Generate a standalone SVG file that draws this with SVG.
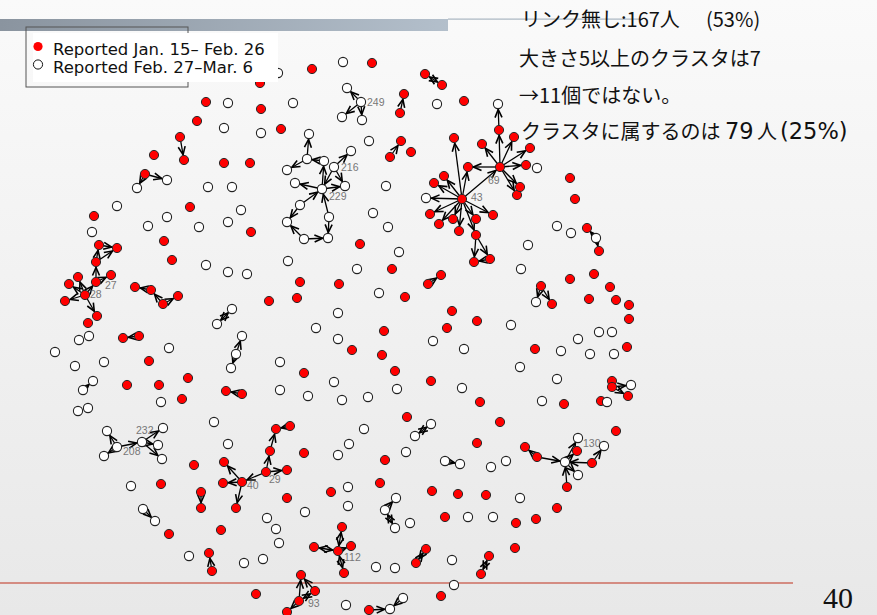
<svg xmlns="http://www.w3.org/2000/svg" width="877" height="615" viewBox="0 0 877 615">
<defs>
<linearGradient id="bg" x1="0" y1="0" x2="0" y2="1"><stop offset="0" stop-color="#fafafa"/><stop offset="1" stop-color="#e8e8e8"/></linearGradient>
<linearGradient id="bar" x1="0" y1="0" x2="1" y2="0"><stop offset="0" stop-color="#8a949f"/><stop offset="1" stop-color="#b3bfcb"/></linearGradient>
<marker id="a" viewBox="0 0 10 10" refX="14.5" refY="5" markerWidth="10" markerHeight="10" markerUnits="userSpaceOnUse" orient="auto-start-reverse"><path d="M1,1.5 L9,5 L1,8.5" fill="none" stroke="#000" stroke-width="1.6"/></marker>
<style>
.r{fill:#ff0000;stroke:#2a2a2a;stroke-width:1}
.w{fill:#ffffff;stroke:#222;stroke-width:1.1}
circle{r:4.6px}
.e{stroke:#000;stroke-width:1.3;fill:none;marker-end:url(#a)}
.b{stroke:#000;stroke-width:1.3;fill:none;marker-end:url(#a);marker-start:url(#a)}
.lb{font-family:"Liberation Sans",Arial,sans-serif;font-size:10.5px;fill:#777}
.jp{font-family:"Noto Sans CJK JP",sans-serif;font-size:20px;fill:#111}
.lt{font-family:"DejaVu Sans","Noto Sans CJK JP",sans-serif;font-size:22.5px}
.lg{font-family:"DejaVu Sans",sans-serif;font-size:16.5px;fill:#111}
</style>
</defs>
<rect width="877" height="615" fill="url(#bg)"/>
<rect x="0" y="19" width="448" height="12" fill="url(#bar)"/>
<rect x="448" y="18.5" width="195" height="1.2" fill="#a9b5c1"/>
<line x1="0" y1="583" x2="793" y2="583" stroke="#c0301c" stroke-width="1.2"/>
<text x="823" y="608" font-family="Liberation Serif,serif" font-size="30" fill="#111">40</text>
<g id="notes" class="jp">
<text x="521" y="27">リンク無し:167人<tspan x="706">(53%)</tspan></text>
<text x="519" y="65.5">大きさ5以上のクラスタは7</text>
<text x="519" y="103">→11個ではない。</text>
<text x="521" y="139">クラスタに属するのは<tspan class="lt" x="725">79</tspan><tspan x="757">人</tspan><tspan class="lt" x="780">(25%)</tspan></text>
</g>
<g id="edges">
<line class="e" x1="180" y1="137" x2="184" y2="160"/>
<line class="b" x1="425" y1="74" x2="442" y2="85"/>
<line class="e" x1="361" y1="102" x2="347" y2="88"/>
<line class="e" x1="361" y1="102" x2="342" y2="117"/>
<line class="e" x1="361" y1="102" x2="362" y2="120"/>
<line class="e" x1="400" y1="113" x2="404" y2="94"/>
<line class="e" x1="307" y1="159" x2="309" y2="134"/>
<line class="e" x1="390" y1="157" x2="401" y2="141"/>
<line class="e" x1="334" y1="167" x2="351" y2="151"/>
<line class="e" x1="307" y1="159" x2="287" y2="170"/>
<line class="e" x1="324" y1="161" x2="307" y2="159"/>
<line class="e" x1="322" y1="189" x2="324" y2="161"/>
<line class="e" x1="334" y1="167" x2="322" y2="189"/>
<line class="e" x1="322" y1="189" x2="345" y2="186"/>
<line class="e" x1="322" y1="189" x2="295" y2="183"/>
<line class="e" x1="300" y1="205" x2="322" y2="189"/>
<line class="e" x1="329" y1="217" x2="322" y2="189"/>
<line class="e" x1="334" y1="167" x2="345" y2="186"/>
<line class="e" x1="300" y1="205" x2="287" y2="222"/>
<line class="e" x1="304" y1="239" x2="287" y2="222"/>
<line class="e" x1="304" y1="239" x2="328" y2="238"/>
<line class="e" x1="329" y1="217" x2="328" y2="238"/>
<line class="e" x1="145" y1="174" x2="167" y2="180"/>
<line class="e" x1="145" y1="174" x2="137" y2="188"/>
<line class="e" x1="96" y1="262" x2="99" y2="245"/>
<line class="e" x1="96" y1="262" x2="117" y2="248"/>
<line class="e" x1="99" y1="245" x2="117" y2="248"/>
<line class="e" x1="96" y1="282" x2="96" y2="262"/>
<line class="e" x1="96" y1="282" x2="111" y2="275"/>
<line class="e" x1="85" y1="295" x2="96" y2="282"/>
<line class="e" x1="85" y1="295" x2="78" y2="277"/>
<line class="e" x1="85" y1="295" x2="69" y2="284"/>
<line class="e" x1="85" y1="295" x2="65" y2="301"/>
<line class="e" x1="85" y1="295" x2="97" y2="316"/>
<line class="e" x1="151" y1="290" x2="135" y2="287"/>
<line class="e" x1="163" y1="304" x2="151" y2="290"/>
<line class="e" x1="163" y1="304" x2="178" y2="296"/>
<line class="b" x1="232" y1="309" x2="217" y2="324"/>
<line class="e" x1="139" y1="336" x2="123" y2="338"/>
<line class="e" x1="236" y1="354" x2="242" y2="336"/>
<line class="e" x1="236" y1="354" x2="231" y2="368"/>
<line class="e" x1="242" y1="394" x2="226" y2="391"/>
<line class="e" x1="83" y1="390" x2="93" y2="381"/>
<line class="e" x1="117" y1="447" x2="107" y2="431"/>
<line class="e" x1="117" y1="447" x2="104" y2="456"/>
<line class="e" x1="117" y1="447" x2="142" y2="442"/>
<line class="e" x1="142" y1="442" x2="163" y2="428"/>
<line class="e" x1="142" y1="442" x2="158" y2="445"/>
<line class="e" x1="142" y1="442" x2="162" y2="459"/>
<line class="e" x1="242" y1="482" x2="224" y2="462"/>
<line class="e" x1="242" y1="482" x2="223" y2="483"/>
<line class="e" x1="242" y1="482" x2="236" y2="508"/>
<line class="e" x1="266" y1="472" x2="242" y2="482"/>
<line class="e" x1="266" y1="472" x2="287" y2="470"/>
<line class="e" x1="266" y1="472" x2="270" y2="451"/>
<line class="e" x1="270" y1="451" x2="276" y2="429"/>
<line class="e" x1="290" y1="426" x2="276" y2="429"/>
<line class="e" x1="201" y1="492" x2="201" y2="508"/>
<line class="e" x1="143" y1="509" x2="155" y2="521"/>
<line class="e" x1="212" y1="571" x2="209" y2="553"/>
<line class="e" x1="385" y1="510" x2="396" y2="498"/>
<line class="b" x1="385" y1="510" x2="395" y2="528"/>
<line class="b" x1="338" y1="551" x2="342" y2="527"/>
<line class="b" x1="338" y1="551" x2="314" y2="547"/>
<line class="e" x1="338" y1="551" x2="351" y2="546"/>
<line class="b" x1="338" y1="551" x2="344" y2="573"/>
<line class="b" x1="426" y1="549" x2="416" y2="563"/>
<line class="e" x1="299" y1="601" x2="301" y2="575"/>
<line class="e" x1="315" y1="591" x2="301" y2="575"/>
<line class="b" x1="299" y1="601" x2="315" y2="591"/>
<line class="e" x1="299" y1="601" x2="287" y2="612"/>
<line class="e" x1="369" y1="610" x2="390" y2="609"/>
<line class="e" x1="403" y1="598" x2="390" y2="609"/>
<line class="e" x1="445" y1="461" x2="460" y2="464"/>
<line class="b" x1="431" y1="424" x2="415" y2="436"/>
<line class="b" x1="481" y1="574" x2="489" y2="556"/>
<line class="e" x1="567" y1="487" x2="565" y2="462"/>
<line class="e" x1="537" y1="457" x2="525" y2="447"/>
<line class="e" x1="537" y1="457" x2="565" y2="462"/>
<line class="e" x1="592" y1="463" x2="604" y2="446"/>
<line class="e" x1="565" y1="462" x2="578" y2="438"/>
<line class="e" x1="565" y1="462" x2="577" y2="451"/>
<line class="e" x1="565" y1="462" x2="578" y2="475"/>
<line class="e" x1="592" y1="463" x2="565" y2="462"/>
<line class="e" x1="612" y1="387" x2="628" y2="396"/>
<line class="e" x1="612" y1="387" x2="631" y2="385"/>
<line class="e" x1="596" y1="238" x2="587" y2="228"/>
<line class="e" x1="596" y1="238" x2="599" y2="251"/>
<line class="e" x1="541" y1="286" x2="536" y2="302"/>
<line class="e" x1="541" y1="286" x2="552" y2="304"/>
<line class="e" x1="476" y1="235" x2="474" y2="262"/>
<line class="e" x1="476" y1="235" x2="490" y2="259"/>
<line class="e" x1="490" y1="259" x2="474" y2="262"/>
<line class="e" x1="428" y1="284" x2="441" y2="275"/>
<line class="e" x1="500" y1="167" x2="468" y2="167"/>
<line class="e" x1="500" y1="167" x2="526" y2="165"/>
<line class="e" x1="500" y1="167" x2="520" y2="187"/>
<line class="e" x1="500" y1="167" x2="517" y2="195"/>
<line class="e" x1="500" y1="167" x2="499" y2="130"/>
<line class="e" x1="499" y1="130" x2="498" y2="104"/>
<line class="e" x1="500" y1="167" x2="482" y2="144"/>
<line class="e" x1="500" y1="167" x2="514" y2="137"/>
<line class="e" x1="500" y1="167" x2="530" y2="148"/>
<line class="e" x1="462" y1="199" x2="500" y2="167"/>
<line class="e" x1="462" y1="199" x2="468" y2="167"/>
<line class="e" x1="462" y1="199" x2="454" y2="138"/>
<line class="e" x1="462" y1="199" x2="493" y2="215"/>
<line class="e" x1="462" y1="199" x2="476" y2="219"/>
<line class="e" x1="462" y1="199" x2="476" y2="235"/>
<line class="e" x1="462" y1="199" x2="459" y2="231"/>
<line class="e" x1="462" y1="199" x2="453" y2="219"/>
<line class="e" x1="462" y1="199" x2="430" y2="214"/>
<line class="e" x1="462" y1="199" x2="439" y2="224"/>
<line class="e" x1="462" y1="199" x2="426" y2="198"/>
<line class="e" x1="462" y1="199" x2="434" y2="183"/>
<line class="e" x1="462" y1="199" x2="444" y2="176"/>
</g>
<g id="nodes">
<g id="n1"><circle class="w" cx="278" cy="73"/></g>
<g id="n2"><circle class="r" cx="260" cy="83"/></g>
<g id="n3"><circle class="r" cx="312" cy="69"/></g>
<g id="n4"><circle class="w" cx="343" cy="62"/></g>
<g id="n5"><circle class="r" cx="372" cy="63"/></g>
<g id="n6"><circle class="r" cx="425" cy="74"/></g>
<g id="n7"><circle class="r" cx="442" cy="85"/></g>
<g id="n8"><circle class="r" cx="206" cy="102"/></g>
<g id="n9"><circle class="w" cx="228" cy="103"/></g>
<g id="n10"><circle class="r" cx="197" cy="121"/></g>
<g id="n11"><circle class="w" cx="224" cy="128"/></g>
<g id="n12"><circle class="r" cx="180" cy="137"/></g>
<g id="n13"><circle class="r" cx="184" cy="160"/></g>
<g id="n14"><circle class="r" cx="154" cy="155"/></g>
<g id="n15"><circle class="r" cx="261" cy="109"/></g>
<g id="n16"><circle class="w" cx="293" cy="103"/></g>
<g id="n17"><circle class="w" cx="347" cy="88"/></g>
<g id="n249"><circle class="w" cx="361" cy="102"/><text class="lb" x="367" y="106">249</text></g>
<g id="n19"><circle class="w" cx="342" cy="117"/></g>
<g id="n20"><circle class="w" cx="362" cy="120"/></g>
<g id="n21"><circle class="r" cx="404" cy="94"/></g>
<g id="n22"><circle class="r" cx="400" cy="113"/></g>
<g id="n23"><circle class="w" cx="437" cy="104"/></g>
<g id="n24"><circle class="w" cx="261" cy="133"/></g>
<g id="n25"><circle class="r" cx="281" cy="129"/></g>
<g id="n26"><circle class="w" cx="309" cy="134"/></g>
<g id="n27"><circle class="w" cx="369" cy="141"/></g>
<g id="n28"><circle class="r" cx="401" cy="141"/></g>
<g id="n29"><circle class="r" cx="390" cy="157"/></g>
<g id="n30"><circle class="r" cx="411" cy="152"/></g>
<g id="n31"><circle class="r" cx="454" cy="138"/></g>
<g id="n32"><circle class="w" cx="351" cy="151"/></g>
<g id="n33"><circle class="r" cx="464" cy="101"/></g>
<g id="n34"><circle class="w" cx="498" cy="104"/></g>
<g id="n35"><circle class="r" cx="499" cy="130"/></g>
<g id="n36"><circle class="r" cx="482" cy="144"/></g>
<g id="n37"><circle class="r" cx="514" cy="137"/></g>
<g id="n38"><circle class="r" cx="530" cy="148"/></g>
<g id="n39"><circle class="r" cx="224" cy="163"/></g>
<g id="n40a"><circle class="r" cx="250" cy="163"/></g>
<g id="n41"><circle class="w" cx="307" cy="159"/></g>
<g id="n42"><circle class="w" cx="324" cy="161"/></g>
<g id="n43a"><circle class="w" cx="287" cy="170"/></g>
<g id="n216"><circle class="w" cx="334" cy="167"/><text class="lb" x="341" y="171">216</text></g>
<g id="n45"><circle class="r" cx="145" cy="174"/></g>
<g id="n46"><circle class="w" cx="167" cy="180"/></g>
<g id="n47"><circle class="w" cx="137" cy="188"/></g>
<g id="n48"><circle class="w" cx="208" cy="187"/></g>
<g id="n49"><circle class="w" cx="232" cy="187"/></g>
<g id="n50"><circle class="w" cx="117" cy="206"/></g>
<g id="n51"><circle class="r" cx="190" cy="207"/></g>
<g id="n52"><circle class="w" cx="241" cy="210"/></g>
<g id="n53"><circle class="r" cx="94" cy="216"/></g>
<g id="n54"><circle class="w" cx="167" cy="217"/></g>
<g id="n55"><circle class="w" cx="148" cy="226"/></g>
<g id="n56"><circle class="w" cx="199" cy="227"/></g>
<g id="n57"><circle class="w" cx="228" cy="222"/></g>
<g id="n58"><circle class="w" cx="92" cy="232"/></g>
<g id="n59"><circle class="r" cx="164" cy="241"/></g>
<g id="n60"><circle class="r" cx="172" cy="260"/></g>
<g id="n61"><circle class="w" cx="206" cy="265"/></g>
<g id="n62"><circle class="w" cx="228" cy="272"/></g>
<g id="n63"><circle class="w" cx="247" cy="274"/></g>
<g id="n64"><circle class="r" cx="99" cy="245"/></g>
<g id="n65"><circle class="r" cx="117" cy="248"/></g>
<g id="n66"><circle class="r" cx="96" cy="262"/></g>
<g id="n67"><circle class="r" cx="111" cy="275"/></g>
<g id="n27n"><circle class="r" cx="96" cy="282"/><text class="lb" x="105" y="289">27</text></g>
<g id="n69a"><circle class="r" cx="78" cy="277"/></g>
<g id="n70"><circle class="r" cx="69" cy="284"/></g>
<g id="n28n"><circle class="r" cx="85" cy="295"/><text class="lb" x="90" y="298">28</text></g>
<g id="n72"><circle class="r" cx="65" cy="301"/></g>
<g id="n73"><circle class="r" cx="97" cy="316"/></g>
<g id="n74"><circle class="r" cx="135" cy="287"/></g>
<g id="n75"><circle class="r" cx="151" cy="290"/></g>
<g id="n76"><circle class="r" cx="163" cy="304"/></g>
<g id="n77"><circle class="r" cx="178" cy="296"/></g>
<g id="n78"><circle class="w" cx="232" cy="309"/></g>
<g id="n229"><circle class="w" cx="322" cy="189"/><text class="lb" x="329" y="200">229</text></g>
<g id="n80"><circle class="w" cx="295" cy="183"/></g>
<g id="n81"><circle class="w" cx="345" cy="186"/></g>
<g id="n82"><circle class="w" cx="300" cy="205"/></g>
<g id="n83"><circle class="w" cx="329" cy="217"/></g>
<g id="n84"><circle class="w" cx="287" cy="222"/></g>
<g id="n85"><circle class="w" cx="304" cy="239"/></g>
<g id="n86"><circle class="w" cx="328" cy="238"/></g>
<g id="n87"><circle class="w" cx="386" cy="186"/></g>
<g id="n88"><circle class="w" cx="373" cy="213"/></g>
<g id="n89"><circle class="w" cx="388" cy="227"/></g>
<g id="n90"><circle class="r" cx="360" cy="244"/></g>
<g id="n91"><circle class="w" cx="399" cy="252"/></g>
<g id="n92"><circle class="w" cx="288" cy="261"/></g>
<g id="n93a"><circle class="w" cx="357" cy="269"/></g>
<g id="n94"><circle class="r" cx="392" cy="269"/></g>
<g id="n95"><circle class="r" cx="300" cy="282"/></g>
<g id="n96"><circle class="r" cx="339" cy="284"/></g>
<g id="n97"><circle class="r" cx="269" cy="301"/></g>
<g id="n98"><circle class="r" cx="297" cy="298"/></g>
<g id="n99"><circle class="w" cx="379" cy="293"/></g>
<g id="n100"><circle class="r" cx="405" cy="297"/></g>
<g id="n101"><circle class="r" cx="251" cy="232"/></g>
<g id="n102"><circle class="w" cx="426" cy="198"/></g>
<g id="n103"><circle class="r" cx="434" cy="183"/></g>
<g id="n104"><circle class="r" cx="444" cy="176"/></g>
<g id="n105"><circle class="r" cx="430" cy="214"/></g>
<g id="n106"><circle class="r" cx="439" cy="224"/></g>
<g id="n107"><circle class="r" cx="453" cy="219"/></g>
<g id="n108"><circle class="r" cx="441" cy="275"/></g>
<g id="n109"><circle class="r" cx="428" cy="284"/></g>
<g id="n110"><circle class="r" cx="452" cy="311"/></g>
<g id="n69"><circle class="r" cx="500" cy="167"/><text class="lb" x="488" y="184">69</text></g>
<g id="n112a"><circle class="r" cx="468" cy="167"/></g>
<g id="n113"><circle class="r" cx="526" cy="165"/></g>
<g id="n114"><circle class="w" cx="537" cy="168"/></g>
<g id="n115"><circle class="r" cx="517" cy="195"/></g>
<g id="n116"><circle class="r" cx="520" cy="187"/></g>
<g id="n43"><circle class="r" cx="462" cy="199"/><text class="lb" x="471" y="201">43</text></g>
<g id="n118"><circle class="r" cx="493" cy="215"/></g>
<g id="n119"><circle class="r" cx="476" cy="219"/></g>
<g id="n120"><circle class="r" cx="476" cy="235"/></g>
<g id="n121"><circle class="r" cx="474" cy="262"/></g>
<g id="n122"><circle class="r" cx="490" cy="259"/></g>
<g id="n123"><circle class="r" cx="459" cy="231"/></g>
<g id="n124"><circle class="r" cx="570" cy="178"/></g>
<g id="n125"><circle class="r" cx="575" cy="199"/></g>
<g id="n126"><circle class="w" cx="557" cy="226"/></g>
<g id="n127"><circle class="w" cx="571" cy="233"/></g>
<g id="n128"><circle class="r" cx="587" cy="228"/></g>
<g id="n129"><circle class="w" cx="596" cy="238"/></g>
<g id="n130a"><circle class="r" cx="599" cy="251"/></g>
<g id="n131"><circle class="w" cx="528" cy="245"/></g>
<g id="n132"><circle class="w" cx="521" cy="269"/></g>
<g id="n133"><circle class="r" cx="570" cy="279"/></g>
<g id="n134"><circle class="r" cx="594" cy="274"/></g>
<g id="n135"><circle class="r" cx="541" cy="286"/></g>
<g id="n136"><circle class="w" cx="536" cy="302"/></g>
<g id="n137"><circle class="r" cx="552" cy="304"/></g>
<g id="n138"><circle class="r" cx="610" cy="287"/></g>
<g id="n139"><circle class="r" cx="589" cy="299"/></g>
<g id="n140"><circle class="r" cx="616" cy="300"/></g>
<g id="n141"><circle class="r" cx="629" cy="305"/></g>
<g id="n142"><circle class="r" cx="88" cy="323"/></g>
<g id="n143"><circle class="w" cx="79" cy="340"/></g>
<g id="n144"><circle class="w" cx="89" cy="336"/></g>
<g id="n145"><circle class="w" cx="55" cy="352"/></g>
<g id="n146"><circle class="w" cx="75" cy="366"/></g>
<g id="n147"><circle class="w" cx="104" cy="362"/></g>
<g id="n148"><circle class="r" cx="123" cy="338"/></g>
<g id="n149"><circle class="r" cx="139" cy="336"/></g>
<g id="n150"><circle class="w" cx="169" cy="348"/></g>
<g id="n151"><circle class="r" cx="149" cy="361"/></g>
<g id="n152"><circle class="r" cx="127" cy="385"/></g>
<g id="n153"><circle class="r" cx="159" cy="385"/></g>
<g id="n154"><circle class="r" cx="188" cy="378"/></g>
<g id="n155"><circle class="r" cx="182" cy="399"/></g>
<g id="n156"><circle class="w" cx="161" cy="402"/></g>
<g id="n157"><circle class="w" cx="93" cy="381"/></g>
<g id="n158"><circle class="w" cx="83" cy="390"/></g>
<g id="n159"><circle class="w" cx="88" cy="408"/></g>
<g id="n160"><circle class="w" cx="78" cy="411"/></g>
<g id="n161"><circle class="w" cx="217" cy="324"/></g>
<g id="n162"><circle class="w" cx="242" cy="336"/></g>
<g id="n163"><circle class="w" cx="236" cy="354"/></g>
<g id="n164"><circle class="w" cx="231" cy="368"/></g>
<g id="n165"><circle class="r" cx="226" cy="391"/></g>
<g id="n166"><circle class="r" cx="242" cy="394"/></g>
<g id="n167"><circle class="w" cx="214" cy="422"/></g>
<g id="n168"><circle class="w" cx="228" cy="444"/></g>
<g id="n169"><circle class="w" cx="107" cy="431"/></g>
<g id="n208"><circle class="w" cx="117" cy="447"/><text class="lb" x="123" y="455">208</text></g>
<g id="n171"><circle class="w" cx="104" cy="456"/></g>
<g id="n232"><circle class="w" cx="142" cy="442"/><text class="lb" x="136" y="434">232</text></g>
<g id="n173"><circle class="w" cx="163" cy="428"/></g>
<g id="n174"><circle class="w" cx="158" cy="445"/></g>
<g id="n175"><circle class="w" cx="162" cy="459"/></g>
<g id="n176"><circle class="w" cx="338" cy="313"/></g>
<g id="n177"><circle class="w" cx="316" cy="328"/></g>
<g id="n178"><circle class="w" cx="338" cy="339"/></g>
<g id="n179"><circle class="r" cx="384" cy="331"/></g>
<g id="n180"><circle class="r" cx="352" cy="350"/></g>
<g id="n181"><circle class="r" cx="382" cy="355"/></g>
<g id="n182"><circle class="r" cx="447" cy="328"/></g>
<g id="n183"><circle class="w" cx="433" cy="341"/></g>
<g id="n184"><circle class="w" cx="280" cy="362"/></g>
<g id="n185"><circle class="r" cx="304" cy="373"/></g>
<g id="n186"><circle class="w" cx="334" cy="382"/></g>
<g id="n187"><circle class="r" cx="395" cy="371"/></g>
<g id="n188"><circle class="r" cx="431" cy="381"/></g>
<g id="n189"><circle class="w" cx="280" cy="390"/></g>
<g id="n190"><circle class="w" cx="308" cy="396"/></g>
<g id="n191"><circle class="w" cx="342" cy="400"/></g>
<g id="n192"><circle class="w" cx="368" cy="397"/></g>
<g id="n193"><circle class="w" cx="397" cy="389"/></g>
<g id="n194"><circle class="r" cx="407" cy="417"/></g>
<g id="n195"><circle class="w" cx="431" cy="424"/></g>
<g id="n196"><circle class="w" cx="415" cy="436"/></g>
<g id="n197"><circle class="w" cx="364" cy="429"/></g>
<g id="n198"><circle class="w" cx="349" cy="444"/></g>
<g id="n199"><circle class="w" cx="338" cy="455"/></g>
<g id="n200"><circle class="w" cx="406" cy="452"/></g>
<g id="n201"><circle class="r" cx="385" cy="460"/></g>
<g id="n202"><circle class="w" cx="445" cy="461"/></g>
<g id="n203"><circle class="r" cx="290" cy="426"/></g>
<g id="n204"><circle class="r" cx="276" cy="429"/></g>
<g id="n205"><circle class="r" cx="270" cy="451"/></g>
<g id="n206"><circle class="r" cx="304" cy="453"/></g>
<g id="n207"><circle class="r" cx="477" cy="321"/></g>
<g id="n208a"><circle class="w" cx="511" cy="325"/></g>
<g id="n209"><circle class="r" cx="629" cy="319"/></g>
<g id="n210"><circle class="w" cx="599" cy="332"/></g>
<g id="n211"><circle class="w" cx="612" cy="332"/></g>
<g id="n212"><circle class="w" cx="578" cy="339"/></g>
<g id="n213"><circle class="r" cx="627" cy="347"/></g>
<g id="n214"><circle class="w" cx="464" cy="349"/></g>
<g id="n215"><circle class="r" cx="535" cy="349"/></g>
<g id="n216a"><circle class="w" cx="561" cy="351"/></g>
<g id="n217"><circle class="w" cx="590" cy="354"/></g>
<g id="n218"><circle class="w" cx="614" cy="354"/></g>
<g id="n219"><circle class="w" cx="520" cy="367"/></g>
<g id="n220"><circle class="w" cx="557" cy="379"/></g>
<g id="n221"><circle class="w" cx="462" cy="388"/></g>
<g id="n222"><circle class="r" cx="612" cy="381"/></g>
<g id="n223"><circle class="r" cx="612" cy="387"/></g>
<g id="n224"><circle class="w" cx="631" cy="385"/></g>
<g id="n225"><circle class="r" cx="628" cy="396"/></g>
<g id="n226"><circle class="r" cx="480" cy="402"/></g>
<g id="n227"><circle class="w" cx="542" cy="401"/></g>
<g id="n228"><circle class="r" cx="564" cy="404"/></g>
<g id="n229a"><circle class="r" cx="601" cy="401"/></g>
<g id="n230"><circle class="w" cx="607" cy="402"/></g>
<g id="n231"><circle class="r" cx="500" cy="422"/></g>
<g id="n232a"><circle class="r" cx="616" cy="431"/></g>
<g id="n233"><circle class="r" cx="477" cy="443"/></g>
<g id="n130"><circle class="w" cx="578" cy="438"/><text class="lb" x="583" y="447">130</text></g>
<g id="n235"><circle class="w" cx="604" cy="446"/></g>
<g id="n236"><circle class="r" cx="577" cy="451"/></g>
<g id="n237"><circle class="w" cx="565" cy="462"/></g>
<g id="n238"><circle class="r" cx="592" cy="463"/></g>
<g id="n239"><circle class="r" cx="525" cy="447"/></g>
<g id="n240"><circle class="r" cx="537" cy="457"/></g>
<g id="n241"><circle class="w" cx="460" cy="464"/></g>
<g id="n242"><circle class="w" cx="491" cy="467"/></g>
<g id="n243"><circle class="w" cx="506" cy="461"/></g>
<g id="n244"><circle class="r" cx="194" cy="465"/></g>
<g id="n245"><circle class="r" cx="224" cy="462"/></g>
<g id="n29"><circle class="r" cx="266" cy="472"/><text class="lb" x="269" y="483">29</text></g>
<g id="n247"><circle class="r" cx="287" cy="470"/></g>
<g id="n40"><circle class="r" cx="242" cy="482"/><text class="lb" x="247" y="489">40</text></g>
<g id="n249a"><circle class="r" cx="223" cy="483"/></g>
<g id="n250"><circle class="r" cx="236" cy="508"/></g>
<g id="n251"><circle class="r" cx="380" cy="483"/></g>
<g id="n252"><circle class="r" cx="331" cy="492"/></g>
<g id="n253"><circle class="w" cx="348" cy="487"/></g>
<g id="n254"><circle class="r" cx="287" cy="498"/></g>
<g id="n255"><circle class="w" cx="348" cy="506"/></g>
<g id="n256"><circle class="r" cx="432" cy="491"/></g>
<g id="n257"><circle class="w" cx="305" cy="512"/></g>
<g id="n258"><circle class="w" cx="267" cy="518"/></g>
<g id="n259"><circle class="w" cx="276" cy="529"/></g>
<g id="n260"><circle class="w" cx="279" cy="543"/></g>
<g id="n261"><circle class="w" cx="263" cy="559"/></g>
<g id="n262"><circle class="w" cx="244" cy="563"/></g>
<g id="n263"><circle class="w" cx="396" cy="498"/></g>
<g id="n264"><circle class="w" cx="385" cy="510"/></g>
<g id="n265"><circle class="w" cx="395" cy="528"/></g>
<g id="n266"><circle class="w" cx="410" cy="523"/></g>
<g id="n267"><circle class="r" cx="445" cy="517"/></g>
<g id="n268"><circle class="r" cx="342" cy="527"/></g>
<g id="n269"><circle class="r" cx="314" cy="547"/></g>
<g id="n112"><circle class="r" cx="338" cy="551"/><text class="lb" x="344" y="561">112</text></g>
<g id="n271"><circle class="r" cx="351" cy="546"/></g>
<g id="n272"><circle class="r" cx="344" cy="573"/></g>
<g id="n273"><circle class="r" cx="426" cy="549"/></g>
<g id="n274"><circle class="r" cx="416" cy="563"/></g>
<g id="n275"><circle class="w" cx="452" cy="560"/></g>
<g id="n276"><circle class="w" cx="376" cy="567"/></g>
<g id="n277"><circle class="w" cx="395" cy="568"/></g>
<g id="n278"><circle class="w" cx="454" cy="585"/></g>
<g id="n279"><circle class="r" cx="256" cy="594"/></g>
<g id="n280"><circle class="r" cx="301" cy="575"/></g>
<g id="n93"><circle class="r" cx="299" cy="601"/><text class="lb" x="308" y="607">93</text></g>
<g id="n282"><circle class="r" cx="315" cy="591"/></g>
<g id="n283"><circle class="r" cx="287" cy="612"/></g>
<g id="n284"><circle class="w" cx="346" cy="605"/></g>
<g id="n285"><circle class="r" cx="369" cy="610"/></g>
<g id="n286"><circle class="w" cx="390" cy="609"/></g>
<g id="n287"><circle class="w" cx="403" cy="598"/></g>
<g id="n288"><circle class="r" cx="441" cy="596"/></g>
<g id="n289"><circle class="w" cx="131" cy="486"/></g>
<g id="n290"><circle class="r" cx="161" cy="484"/></g>
<g id="n291"><circle class="r" cx="201" cy="492"/></g>
<g id="n292"><circle class="r" cx="201" cy="508"/></g>
<g id="n293"><circle class="w" cx="143" cy="509"/></g>
<g id="n294"><circle class="w" cx="155" cy="521"/></g>
<g id="n295"><circle class="r" cx="169" cy="534"/></g>
<g id="n296"><circle class="r" cx="221" cy="530"/></g>
<g id="n297"><circle class="w" cx="189" cy="556"/></g>
<g id="n298"><circle class="r" cx="209" cy="553"/></g>
<g id="n299"><circle class="r" cx="212" cy="571"/></g>
<g id="n300"><circle class="w" cx="578" cy="475"/></g>
<g id="n301"><circle class="r" cx="567" cy="487"/></g>
<g id="n302"><circle class="r" cx="458" cy="494"/></g>
<g id="n303"><circle class="r" cx="486" cy="495"/></g>
<g id="n304"><circle class="w" cx="520" cy="498"/></g>
<g id="n305"><circle class="w" cx="468" cy="517"/></g>
<g id="n306"><circle class="w" cx="493" cy="517"/></g>
<g id="n307"><circle class="r" cx="516" cy="523"/></g>
<g id="n308"><circle class="r" cx="536" cy="519"/></g>
<g id="n309"><circle class="r" cx="557" cy="508"/></g>
<g id="n310"><circle class="r" cx="515" cy="548"/></g>
<g id="n311"><circle class="r" cx="489" cy="556"/></g>
<g id="n312"><circle class="r" cx="481" cy="574"/></g>
</g>
<g id="legend">
<rect x="26" y="27" width="162" height="60" fill="none" stroke="#555" stroke-width="1"/>
<rect x="33" y="33" width="245" height="49" fill="#ffffff"/>
<circle cx="38" cy="46.5" r="3.4" fill="#ff0000"/>
<circle cx="38" cy="64.5" r="3.4" fill="#fff" stroke="#111" stroke-width="1"/>
<text class="lg" x="53" y="55">Reported Jan. 15– Feb. 26</text>
<text class="lg" x="53" y="73">Reported Feb. 27–Mar. 6</text>
</g>
</svg>
